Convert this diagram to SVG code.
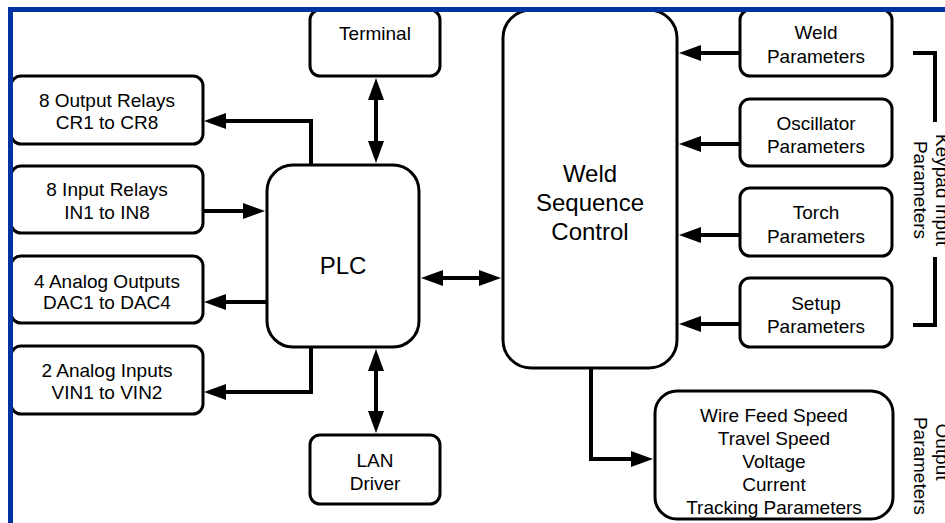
<svg xmlns="http://www.w3.org/2000/svg" width="945" height="523" viewBox="0 0 945 523">
  <style>
    .box { fill: #ffffff; stroke: #000000; stroke-width: 3; }
    .lbl { font-family: "Liberation Sans", Arial, sans-serif; font-size: 19px; fill: #000000; text-anchor: middle; }
    .big { font-family: "Liberation Sans", Arial, sans-serif; font-size: 24px; fill: #000000; text-anchor: middle; }
    .conn { fill: none; stroke: #000000; stroke-width: 4; }
    .arr { marker-end: url(#ah); }
    .dbl { marker-start: url(#ah); marker-end: url(#ah); }
  </style>
  <defs>
    <marker id="ah" markerUnits="userSpaceOnUse" markerWidth="22" markerHeight="16" refX="16" refY="8" orient="auto-start-reverse">
      <path d="M0,0 L22,8 L0,16 Z" fill="#000000"/>
    </marker>
  </defs>
  <rect x="0" y="0" width="945" height="523" fill="#ffffff"/>

  <g id="connectors">
    <path class="conn arr" d="M311,165 V121 H210"/>
    <path class="conn arr" d="M204,211 H259"/>
    <path class="conn arr" d="M267,302 H210"/>
    <path class="conn arr" d="M311,347 V392 H210"/>
    <path class="conn dbl" d="M376,84 V157"/>
    <path class="conn dbl" d="M376,355 V427"/>
    <path class="conn dbl" d="M427,278 H495"/>
    <path class="conn arr" d="M740,53 H685"/>
    <path class="conn arr" d="M740,144 H685"/>
    <path class="conn arr" d="M740,235 H685"/>
    <path class="conn arr" d="M740,324 H685"/>
    <path class="conn arr" d="M591,368 V459 H647"/>
    <path class="conn" d="M913,53 H935 V122"/>
    <path class="conn" d="M935,257 V325 H913"/>
  </g>

  <g id="terminal">
    <rect class="box" x="310" y="10" width="130" height="66" rx="10"/>
    <text class="lbl" x="375" y="40">Terminal</text>
  </g>
  <g id="lan-driver">
    <rect class="box" x="310" y="435" width="130" height="69" rx="10"/>
    <text class="lbl" x="375" y="467">LAN</text>
    <text class="lbl" x="375" y="490">Driver</text>
  </g>
  <g id="output-relays">
    <rect class="box" x="11" y="76" width="192" height="68" rx="10"/>
    <text class="lbl" x="107" y="107">8 Output Relays</text>
    <text class="lbl" x="107" y="129">CR1 to CR8</text>
  </g>
  <g id="input-relays">
    <rect class="box" x="11" y="166" width="192" height="67" rx="10"/>
    <text class="lbl" x="107" y="196">8 Input Relays</text>
    <text class="lbl" x="107" y="219">IN1 to IN8</text>
  </g>
  <g id="analog-outputs">
    <rect class="box" x="11" y="256" width="192" height="67" rx="10"/>
    <text class="lbl" x="107" y="288">4 Analog Outputs</text>
    <text class="lbl" x="107" y="309">DAC1 to DAC4</text>
  </g>
  <g id="analog-inputs">
    <rect class="box" x="11" y="346" width="192" height="68" rx="10"/>
    <text class="lbl" x="107" y="377">2 Analog Inputs</text>
    <text class="lbl" x="107" y="399">VIN1 to VIN2</text>
  </g>
  <g id="plc">
    <rect class="box" x="267" y="165" width="152" height="182" rx="26"/>
    <text class="big" x="343" y="274">PLC</text>
  </g>
  <g id="weld-sequence-control">
    <rect class="box" x="503" y="10" width="174" height="358" rx="28"/>
    <text class="big" x="590" y="182">Weld</text>
    <text class="big" x="590" y="211">Sequence</text>
    <text class="big" x="590" y="240">Control</text>
  </g>
  <g id="weld-parameters">
    <rect class="box" x="740" y="10" width="152" height="66" rx="10"/>
    <text class="lbl" x="816" y="39">Weld</text>
    <text class="lbl" x="816" y="63">Parameters</text>
  </g>
  <g id="oscillator-parameters">
    <rect class="box" x="740" y="99" width="152" height="67" rx="10"/>
    <text class="lbl" x="816" y="130">Oscillator</text>
    <text class="lbl" x="816" y="153">Parameters</text>
  </g>
  <g id="torch-parameters">
    <rect class="box" x="740" y="188" width="152" height="68" rx="10"/>
    <text class="lbl" x="816" y="219">Torch</text>
    <text class="lbl" x="816" y="243">Parameters</text>
  </g>
  <g id="setup-parameters">
    <rect class="box" x="740" y="278" width="152" height="69" rx="10"/>
    <text class="lbl" x="816" y="310">Setup</text>
    <text class="lbl" x="816" y="333">Parameters</text>
  </g>
  <g id="output-parameters">
    <rect class="box" x="655" y="391" width="238" height="128" rx="22"/>
    <text class="lbl" x="774" y="422">Wire Feed Speed</text>
    <text class="lbl" x="774" y="445">Travel Speed</text>
    <text class="lbl" x="774" y="468">Voltage</text>
    <text class="lbl" x="774" y="491">Current</text>
    <text class="lbl" x="774" y="514">Tracking Parameters</text>
  </g>
  <g id="keypad-input-label">
    <text class="lbl" transform="translate(936,190) rotate(90)">Keypad Input</text>
    <text class="lbl" transform="translate(914,190) rotate(90)">Parameters</text>
  </g>
  <g id="output-label">
    <text class="lbl" transform="translate(936,452) rotate(90)">Output</text>
    <text class="lbl" transform="translate(914,466) rotate(90)">Parameters</text>
  </g>

  <g id="frame">
    <rect x="10.5" y="9.5" width="1000" height="1000" fill="none" stroke="#0033a0" stroke-width="5"/>
  </g>
</svg>
